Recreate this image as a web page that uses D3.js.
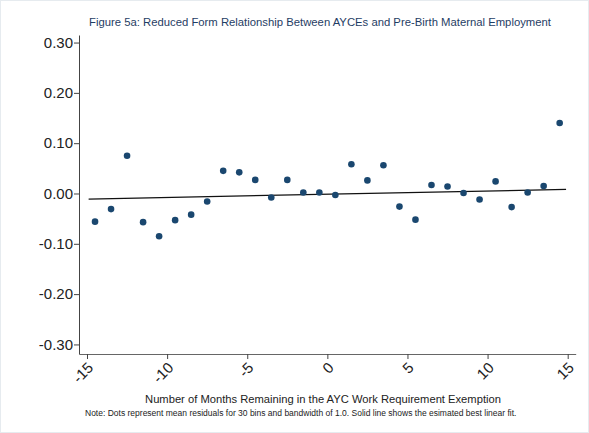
<!DOCTYPE html>
<html>
<head>
<meta charset="utf-8">
<script src="https://cdn.jsdelivr.net/npm/d3@7"></script>
<style>
  body { margin: 0; background: #fff; }
  svg { display: block; font-family: "Liberation Sans", Arial, sans-serif; }
</style>
</head>
<body>
<svg id="chart" width="589" height="433"></svg>
<script>
// ---- data ----
const binMonths = [-14.5,-13.5,-12.5,-11.5,-10.5,-9.5,-8.5,-7.5,-6.5,-5.5,-4.5,-3.5,-2.5,-1.5,-0.5,
                   0.5,1.5,2.5,3.5,4.5,5.5,6.5,7.5,8.5,9.5,10.5,11.5,12.5,13.5,14.5];
const meanResiduals = [-0.056,-0.031,0.075,-0.057,-0.085,-0.053,-0.042,-0.016,0.045,0.042,0.027,-0.008,0.027,0.002,0.002,
                       -0.003,0.058,0.026,0.056,-0.026,-0.052,0.017,0.014,0.001,-0.012,0.024,-0.027,0.002,0.015,0.140];
const fitX = [-14.9, 14.9];
const fitY = [-0.011, 0.008];
const yTicks = [0.30,0.20,0.10,0.00,-0.10,-0.20,-0.30];
const yTickLabels = ["0.30","0.20","0.10","0.00","-0.10","-0.20","-0.30"];
const xTicks = [-15,-10,-5,0,5,10,15];
const xTickLabels = ["-15","-10","-5","0","5","10","15"];
const titleText = "Figure 5a: Reduced Form Relationship Between AYCEs and Pre-Birth Maternal Employment";
const xTitle = "Number of Months Remaining in the AYC Work Requirement Exemption";
const noteText = "Note: Dots represent mean residuals for 30 bins and bandwidth of 1.0. Solid line shows the esimated best linear fit.";

// ---- layout ----
const svg = d3.select("#chart");
const W = 589, H = 433;
const mLeft = 79, mRight = 575.7, mTop = 35, mBottom = 354;

svg.append("rect").attr("x",0.5).attr("y",0.5).attr("width",W-1).attr("height",H-1)
  .attr("fill","#fff").attr("stroke","#e6ebef");

const x = d3.scaleLinear().domain([-15.5, 15.5]).range([mLeft, mRight]);
const y = d3.scaleLinear().domain([-0.319, 0.315]).range([mBottom, mTop]);

// title
svg.append("text").attr("x", 320).attr("y", 26).attr("text-anchor","middle")
  .attr("font-size", 11.3).attr("fill", "#1f3d64").text(titleText);

// y axis
const yAxis = svg.append("g").attr("transform", `translate(${mLeft},0)`)
  .call(d3.axisLeft(y).tickValues(yTicks).tickFormat((d,i) => yTickLabels[i]).tickSize(5).tickSizeOuter(0));
yAxis.select(".domain").attr("stroke","#444");
yAxis.selectAll(".tick line").attr("stroke","#444");
yAxis.selectAll(".tick text").attr("font-size", 15).attr("fill","#222").attr("x", -6)
  .attr("font-family", '"Liberation Sans", Arial, sans-serif');

// x axis
const xAxis = svg.append("g").attr("transform", `translate(0,${mBottom})`)
  .call(d3.axisBottom(x).tickValues(xTicks).tickFormat((d,i) => xTickLabels[i]).tickSize(5).tickSizeOuter(0));
xAxis.select(".domain").attr("stroke","#666");
xAxis.selectAll(".tick line").attr("stroke","#444");
xAxis.selectAll(".tick text")
  .attr("font-size", 15).attr("fill","#222")
  .attr("font-family", '"Liberation Sans", Arial, sans-serif')
  .attr("text-anchor","end")
  .attr("x", 0).attr("y", 0).attr("dy", "0.35em")
  .attr("transform", "translate(3,11) rotate(-45)");

// fit line
svg.append("line")
  .attr("x1", x(fitX[0])).attr("y1", y(fitY[0]))
  .attr("x2", x(fitX[1])).attr("y2", y(fitY[1]))
  .attr("stroke", "#111").attr("stroke-width", 1.2);

// dots
svg.append("g").selectAll("circle")
  .data(binMonths.map((m,i) => [m, meanResiduals[i]]))
  .join("circle")
  .attr("cx", d => x(d[0])).attr("cy", d => y(d[1])).attr("r", 3.3)
  .attr("fill", "#1a476f");

// x title
svg.append("text").attr("x", 323).attr("y", 403).attr("text-anchor","middle")
  .attr("font-size", 11.2).attr("fill","#222").text(xTitle);

// note
svg.append("text").attr("x", 85).attr("y", 416)
  .attr("font-size", 8.5).attr("fill","#222").text(noteText);
</script>
</body>
</html>
